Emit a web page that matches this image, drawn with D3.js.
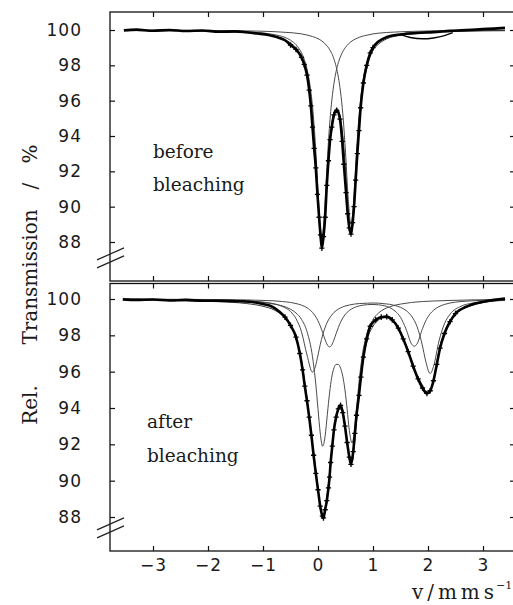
<!DOCTYPE html>
<meta charset="utf-8">

<!-- Load d3.js -->
<script src="https://d3js.org/d3.v7.min.js"></script>

<style>
  body {margin: 0; background: #fff;}
  svg {display: block;}
</style>

<div id="my_dataviz"></div>

<script>

// axis ticks
var velTicks = [-3, -2, -1, 0, 1, 2, 3];
var transTicks = [88, 90, 92, 94, 96, 98, 100];

// ---- before bleaching : [v (mm/s), rel. transmission (%)] ----
var topData = [[-3.53,99.98],[-3.3,100.02],[-3.0,99.96],[-2.7,100.0],[-2.4,99.94],[-2.1,99.97],[-1.8,99.9],[-1.5,99.92],
  [-1.3,99.87],[-1.1,99.8],[-0.9,99.72],[-0.75,99.6],[-0.6,99.42],[-0.5,99.15],[-0.4,98.9],[-0.3,98.45],[-0.25,98.05],
  [-0.2,97.45],[-0.16,96.6],[-0.13,95.7],[-0.1,94.5],[-0.07,93.3],[-0.04,92.2],[-0.01,90.7],[0.02,89.4],[0.045,88.4],
  [0.07,87.65],[0.1,88.3],[0.13,89.4],[0.16,91.2],[0.19,92.6],[0.22,93.8],[0.25,94.5],[0.29,95.2],[0.34,95.45],
  [0.4,94.95],[0.44,93.7],[0.47,92.4],[0.51,90.8],[0.54,89.6],[0.57,88.8],[0.6,88.45],[0.63,89.1],[0.655,90.0],
  [0.685,91.5],[0.715,93.0],[0.745,94.3],[0.775,95.6],[0.825,97.0],[0.885,98.0],[0.95,98.7],[1.0,99.0],[1.1,99.35],
  [1.25,99.6],[1.5,99.75],[1.8,99.83],[2.1,99.88],[2.4,99.95],[2.7,100.0],[3.0,100.05],[3.2,100.08],[3.4,100.12]];

// second, slightly lower trace of the measured points
var topStreak = [[1.5,99.75],[1.7,99.56],[1.9,99.5],[2.1,99.55],[2.3,99.68],[2.45,99.85]];

var topFit = [[-3.5,99.97],[-2.5,99.95],[-1.8,99.91],[-1.3,99.85],[-1.0,99.76],[-0.8,99.65],[-0.6,99.45],[-0.5,99.27],
  [-0.4,98.99],[-0.3,98.48],[-0.25,98.09],[-0.2,97.52],[-0.15,96.65],[-0.1,95.0],[-0.05,93.0],[0,90.44],[0.03,88.77],
  [0.07,87.68],[0.11,88.59],[0.15,90.67],[0.2,93.1],[0.25,94.66],[0.3,95.43],[0.34,95.55],[0.38,95.4],[0.42,94.81],
  [0.46,93.74],[0.5,92.11],[0.55,89.62],[0.6,88.4],[0.64,89.37],[0.68,91.51],[0.72,93.61],[0.76,95.23],[0.8,96.37],
  [0.85,97.34],[0.9,98.0],[1.0,98.85],[1.1,99.2],[1.25,99.5],[1.5,99.7],[1.8,99.8],[2.2,99.89],[2.6,99.92],[3.0,99.95],[3.4,99.96]];

var topSite1 = [[-3.5,99.98],[-2.5,99.97],[-1.8,99.94],[-1.3,99.9],[-1.0,99.83],[-0.8,99.74],[-0.6,99.58],[-0.5,99.42],
  [-0.4,99.17],[-0.3,98.71],[-0.25,98.34],[-0.2,97.8],[-0.15,96.97],[-0.1,95.68],[-0.05,93.68],[0,90.93],[0.03,89.31],
  [0.07,88.3],[0.11,89.31],[0.15,91.52],[0.2,94.15],[0.25,95.99],[0.3,97.17],[0.34,97.8],[0.38,98.25],[0.42,98.58],
  [0.46,98.83],[0.5,99.02],[0.55,99.2],[0.6,99.34],[0.68,99.49],[0.76,99.6],[0.85,99.68],[1.0,99.78],[1.25,99.86],
  [1.5,99.9],[1.8,99.93],[2.2,99.96],[2.6,99.97],[3.0,99.98],[3.4,99.98]];

var topSite2 = [[-3.5,99.99],[-2.5,99.98],[-1.8,99.97],[-1.3,99.95],[-1.0,99.93],[-0.6,99.87],[-0.3,99.78],[-0.1,99.63],
  [0,99.51],[0.07,99.38],[0.15,99.15],[0.2,98.95],[0.25,98.67],[0.3,98.26],[0.34,97.8],[0.38,97.15],[0.42,96.23],
  [0.46,94.91],[0.5,93.09],[0.55,90.42],[0.6,89.0],[0.64,89.95],[0.68,92.02],[0.72,94.06],[0.76,95.63],[0.8,96.73],
  [0.85,97.66],[0.9,98.26],[1.0,98.95],[1.1,99.3],[1.25,99.58],[1.5,99.78],[1.8,99.87],[2.2,99.93],[2.6,99.95],[3.0,99.97],[3.4,99.98]];

// ---- after bleaching ----
var botData = [[-3.55,99.98],[-3.3,99.95],[-3.0,99.97],[-2.7,99.92],[-2.4,99.95],[-2.1,99.9],[-1.8,99.9],[-1.5,99.88],
  [-1.25,99.85],[-1.0,99.72],[-0.85,99.6],[-0.7,99.3],[-0.6,99.0],[-0.5,98.55],[-0.4,97.9],[-0.33,97.0],[-0.28,96.1],
  [-0.24,95.2],[-0.2,94.4],[-0.16,93.5],[-0.12,92.5],[-0.08,91.4],[-0.04,90.4],[0,89.5],[0.04,88.6],[0.08,88.05],
  [0.1,87.95],[0.13,88.4],[0.16,88.9],[0.19,89.6],[0.21,90.2],[0.23,91.0],[0.26,91.9],[0.29,92.8],[0.33,93.5],
  [0.37,93.95],[0.41,94.15],[0.45,93.75],[0.49,93.0],[0.53,92.1],[0.57,91.3],[0.6,90.9],[0.64,91.6],[0.67,92.6],
  [0.7,93.6],[0.745,94.7],[0.78,95.7],[0.825,96.8],[0.885,97.8],[0.95,98.5],[1.05,98.85],[1.15,99.0],[1.25,99.03],
  [1.35,98.85],[1.46,98.4],[1.55,97.8],[1.64,97.1],[1.73,96.3],[1.82,95.6],[1.9,95.1],[1.98,94.8],[2.04,94.95],
  [2.1,95.5],[2.16,96.4],[2.22,97.3],[2.3,98.1],[2.4,98.75],[2.5,99.2],[2.61,99.45],[2.8,99.7],[3.0,99.85],[3.2,99.95],[3.4,100.02]];

var botFit = [[-3.5,99.96],[-2.5,99.91],[-1.8,99.85],[-1.3,99.75],[-1.0,99.6],[-0.8,99.4],[-0.65,99.1],[-0.5,98.56],
  [-0.4,97.9],[-0.3,96.6],[-0.2,94.5],[-0.1,92.0],[-0.05,90.8],[0,89.6],[0.04,88.63],[0.085,88.0],[0.13,88.5],
  [0.17,89.3],[0.21,90.4],[0.25,91.7],[0.29,92.8],[0.33,93.55],[0.37,94.0],[0.41,94.2],[0.45,93.85],[0.49,93.1],
  [0.53,92.2],[0.57,91.35],[0.62,91.0],[0.66,91.85],[0.7,93.25],[0.75,94.92],[0.8,96.21],[0.9,97.8],[1.0,98.5],
  [1.1,98.85],[1.2,98.98],[1.3,98.95],[1.4,98.7],[1.5,98.2],[1.6,97.4],[1.7,96.5],[1.75,96.1],[1.8,95.8],[1.9,95.25],
  [1.95,94.95],[2.0,94.85],[2.04,94.95],[2.1,95.55],[2.2,97.17],[2.3,98.2],[2.4,98.8],[2.6,99.4],[2.8,99.65],[3.0,99.8],[3.4,99.95]];

// three quadrupole doublets of the fit
var botDoubletA = [[-3.5,99.98],[-2.5,99.96],[-1.8,99.93],[-1.3,99.88],[-1.0,99.81],[-0.8,99.72],[-0.65,99.62],[-0.5,99.44],
  [-0.4,99.23],[-0.3,98.88],[-0.2,98.21],[-0.1,96.82],[-0.05,95.6],[0,93.96],[0.04,92.63],[0.085,91.89],[0.13,92.47],
  [0.17,93.65],[0.21,94.82],[0.25,95.7],[0.29,96.2],[0.33,96.4],[0.37,96.4],[0.41,96.2],[0.45,95.75],[0.49,95.0],
  [0.53,93.93],[0.57,92.76],[0.62,92.08],[0.66,92.67],[0.7,93.93],[0.75,95.55],[0.8,96.79],[0.9,98.2],[1.0,98.87],
  [1.1,99.23],[1.2,99.44],[1.3,99.57],[1.4,99.66],[1.5,99.72],[1.7,99.81],[1.9,99.86],[2.1,99.89],[2.4,99.92],[2.8,99.95],[3.4,99.97]];

var botDoubletB = [[-3.5,99.99],[-2.5,99.97],[-1.8,99.95],[-1.3,99.9],[-1.0,99.83],[-0.8,99.74],[-0.65,99.59],[-0.5,99.31],
  [-0.4,98.92],[-0.3,98.19],[-0.2,96.92],[-0.1,95.97],[-0.05,96.26],[0,96.91],[0.04,97.48],[0.085,98.02],[0.13,98.44],
  [0.17,98.73],[0.21,98.95],[0.25,99.12],[0.29,99.26],[0.33,99.36],[0.41,99.51],[0.49,99.61],[0.57,99.67],[0.66,99.72],
  [0.75,99.75],[0.9,99.77],[1.0,99.78],[1.1,99.77],[1.2,99.74],[1.3,99.71],[1.4,99.64],[1.5,99.54],[1.6,99.37],
  [1.7,99.06],[1.75,98.82],[1.8,98.49],[1.9,97.41],[1.95,96.69],[2.04,95.9],[2.1,96.28],[2.2,97.69],[2.3,98.65],
  [2.4,99.16],[2.6,99.6],[2.8,99.77],[3.0,99.85],[3.4,99.92]];

var botDoubletC = [[-3.5,99.99],[-2.5,99.98],[-1.8,99.97],[-1.3,99.95],[-1.0,99.92],[-0.8,99.9],[-0.65,99.86],[-0.5,99.81],
  [-0.4,99.75],[-0.3,99.66],[-0.2,99.52],[-0.1,99.26],[0,98.8],[0.04,98.52],[0.085,98.15],[0.13,97.75],[0.17,97.47],
  [0.21,97.36],[0.25,97.47],[0.29,97.75],[0.33,98.1],[0.37,98.43],[0.41,98.72],[0.45,98.95],[0.49,99.13],[0.57,99.37],
  [0.66,99.53],[0.75,99.62],[0.9,99.69],[1.0,99.7],[1.1,99.68],[1.2,99.63],[1.3,99.53],[1.4,99.34],[1.5,98.99],
  [1.6,98.35],[1.7,97.53],[1.75,97.4],[1.8,97.53],[1.9,98.37],[1.95,98.74],[2.04,99.19],[2.1,99.38],[2.2,99.58],
  [2.3,99.7],[2.4,99.78],[2.6,99.86],[2.8,99.9],[3.0,99.93],[3.4,99.96]];

// ---- layout ----
var W = 513, H = 605;
var left = 110, right = 514;

var svg = d3.select("#my_dataviz")
  .append("svg")
    .attr("width", W)
    .attr("height", H);

var x = d3.scaleLinear().domain([-3, 3]).range([153, 483]);
var yTop = d3.scaleLinear().domain([88, 100]).range([242, 30]);
var yBot = d3.scaleLinear().domain([88, 100]).range([517, 299]);

var panels = [
  {y: yTop, top: 12, bottom: 281, breakAt: 87.1,
   data: topData, extra: [topStreak], fit: topFit, parts: [topSite1, topSite2],
   label: ["before", "bleaching"], lx: 153, ly: [158, 191]},
  {y: yBot, top: 283.5, bottom: 551, breakAt: 87.4,
   data: botData, extra: [], fit: botFit, parts: [botDoubletA, botDoubletB, botDoubletC],
   label: ["after", "bleaching"], lx: 147, ly: [428, 462]}
];

function styleAxis(g) {
  g.attr("font-family", "'DejaVu Sans', sans-serif").attr("font-size", 17);
  g.select(".domain").remove();
  g.selectAll("line").attr("stroke", "#111").attr("stroke-width", 1.2);
  g.selectAll("text").attr("fill", "#1a1a1a");
}

panels.forEach(function(p, i) {
  var g = svg.append("g");

  // frame
  g.append("rect")
    .attr("x", left).attr("y", p.top)
    .attr("width", right - left).attr("height", p.bottom - p.top)
    .attr("fill", "none").attr("stroke", "#111").attr("stroke-width", 1.3);

  // left axis, inward ticks
  g.append("g")
    .attr("transform", "translate(" + left + ",0)")
    .call(d3.axisLeft(p.y).tickValues(transTicks).tickSize(-5).tickPadding(28))
    .call(styleAxis)
    .selectAll("text").attr("letter-spacing", 1);

  // right axis ticks only
  g.append("g")
    .attr("transform", "translate(" + right + ",0)")
    .call(d3.axisRight(p.y).tickValues(transTicks).tickSize(-4).tickFormat(""))
    .call(styleAxis);

  // top ticks
  g.append("g")
    .attr("transform", "translate(0," + p.top + ")")
    .call(d3.axisTop(x).tickValues(velTicks).tickSize(-5).tickFormat(""))
    .call(styleAxis);

  // bottom ticks (labels only on the lower panel)
  var xa = d3.axisBottom(x).tickValues(velTicks).tickSize(-5).tickPadding(8)
    .tickFormat(i == 0 ? "" : d3.format("d"));
  g.append("g")
    .attr("transform", "translate(0," + p.bottom + ")")
    .call(xa)
    .call(styleAxis)
    .selectAll("text").attr("letter-spacing", 1);

  // axis break marks
  var yb = p.y(p.breakAt);
  [-4, 4].forEach(function(o) {
    g.append("line")
      .attr("x1", left - 13).attr("y1", yb + o + 6)
      .attr("x2", left + 14).attr("y2", yb + o - 6)
      .attr("stroke", "#222").attr("stroke-width", 1.2);
  });

  var line = d3.line()
    .x(function(d) { return x(d[0]); })
    .y(function(d) { return p.y(d[1]); })
    .curve(d3.curveMonotoneX);

  // fit components
  p.parts.forEach(function(c) {
    g.append("path").attr("d", line(c))
      .attr("fill", "none").attr("stroke", "#4a4a4a").attr("stroke-width", 1);
  });

  // total fit
  g.append("path").attr("d", line(p.fit))
    .attr("fill", "none").attr("stroke", "#333").attr("stroke-width", 1);

  // measured points: dense band, crosses where the absorption is visible
  g.append("path").attr("d", line(p.data))
    .attr("fill", "none").attr("stroke", "#000").attr("stroke-width", 2.6);
  p.extra.forEach(function(s) {
    g.append("path").attr("d", line(s))
      .attr("fill", "none").attr("stroke", "#000").attr("stroke-width", 1.5);
  });
  g.selectAll(".pt")
    .data(p.data.filter(function(d) { return d[1] < 99.3; }))
    .enter()
    .append("path")
      .attr("transform", function(d) { return "translate(" + x(d[0]) + "," + p.y(d[1]) + ")"; })
      .attr("d", "M-2.6,0H2.6M0,-2.8V2.8")
      .attr("stroke", "#000").attr("stroke-width", 1.3);

  // panel label
  p.label.forEach(function(t, k) {
    g.append("text")
      .attr("x", p.lx).attr("y", p.ly[k])
      .attr("font-family", "'DejaVu Serif', serif")
      .attr("font-size", 18.5)
      .attr("fill", "#1a1a1a")
      .text(t);
  });
});

// y axis title, rotated
var yTitle = [["Rel.", 405], ["Transmission", 277], ["/", 186], ["%", 154]];
yTitle.forEach(function(t) {
  svg.append("text")
    .attr("transform", "translate(37," + t[1] + ") rotate(-90)")
    .attr("text-anchor", "middle")
    .attr("font-family", "'DejaVu Serif', serif")
    .attr("font-size", 20)
    .attr("fill", "#1a1a1a")
    .text(t[0]);
});

// x axis title
svg.append("text")
  .attr("x", 412).attr("y", 599)
  .attr("font-family", "'DejaVu Serif', serif")
  .attr("font-size", 20)
  .attr("textLength", 82)
  .attr("lengthAdjust", "spacing")
  .attr("fill", "#1a1a1a")
  .text("v/mms");
svg.append("text")
  .attr("x", 496).attr("y", 589)
  .attr("font-family", "'DejaVu Serif', serif")
  .attr("font-size", 11)
  .attr("fill", "#1a1a1a")
  .text("\u22121");

</script>
